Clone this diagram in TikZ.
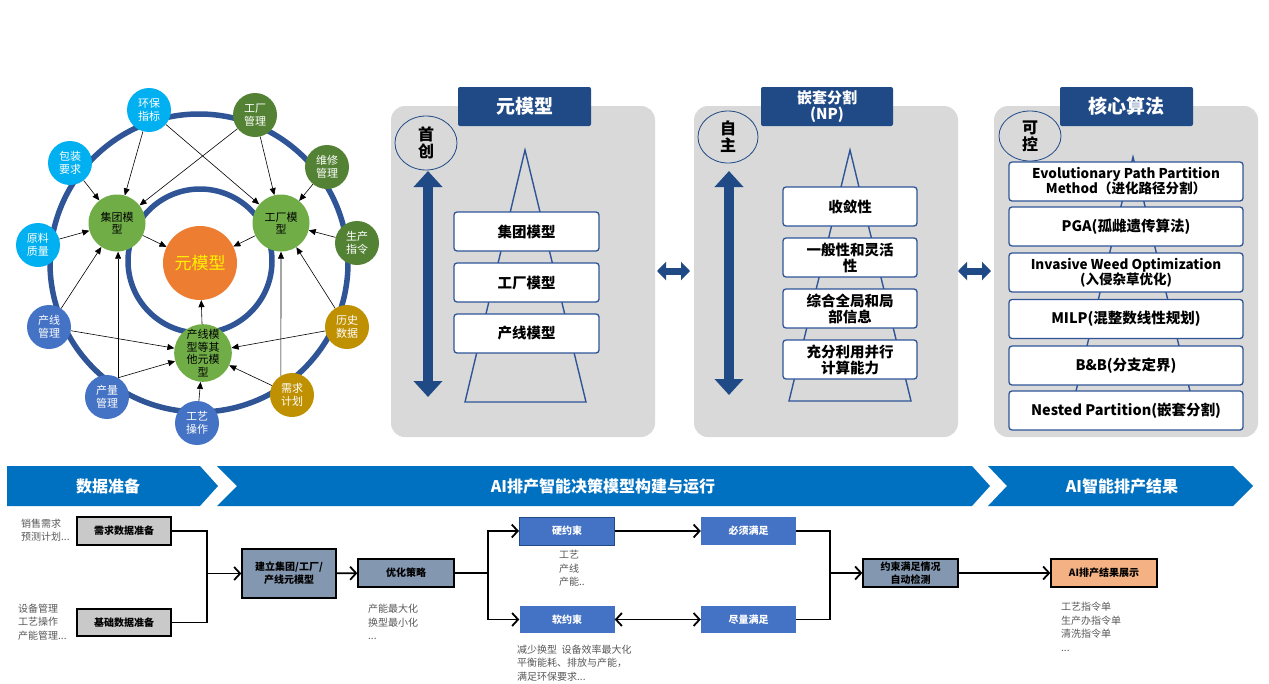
\documentclass[tikz,border=0pt]{standalone}
\usepackage{fontspec}
\setmainfont{Noto Sans CJK SC}
\usetikzlibrary{arrows.meta,shapes.geometric}
\definecolor{cyanc}{HTML}{00B0F0}
\definecolor{dgreen}{HTML}{548235}
\definecolor{lgreen}{HTML}{70AD47}
\definecolor{blu}{HTML}{4472C4}
\definecolor{gold}{HTML}{BF9000}
\definecolor{orng}{HTML}{ED7D31}
\definecolor{ringc}{HTML}{2F5597}
\definecolor{panelgray}{HTML}{D9D9D9}
\definecolor{navy}{HTML}{1F4A86}
\definecolor{bannerc}{HTML}{0070C0}
\definecolor{slate}{HTML}{8497B0}
\definecolor{lorange}{HTML}{F4B183}
\definecolor{boxgray}{HTML}{C9C9C9}
\definecolor{txtgray}{HTML}{595959}
\tikzset{
  outerc/.style={circle, minimum size=44pt, inner sep=0pt, text=white, align=center, font=\fontsize{11}{13}\selectfont},
  greenc/.style={circle, fill=lgreen, minimum size=57pt, inner sep=0pt, align=center, font=\fontsize{11}{12.5}\selectfont},
  carrow/.style={draw=black, line width=0.6pt, -{Triangle[length=7pt,width=6pt]}},
  ringline/.style={draw=ringc, line width=5.5pt},
  titlebox/.style={fill=navy, text=white, rounded corners=2pt, minimum height=39pt, inner sep=0pt, align=center},
  tagell/.style={ellipse, draw=navy, line width=0.8pt, inner sep=0pt, align=center, font=\bfseries\fontsize{16}{20}\selectfont},
  pbox/.style={draw=ringc, line width=1.3pt, fill=white, rounded corners=3pt, minimum height=39pt, inner sep=0pt, align=center, font=\bfseries\fontsize{14.5}{16}\selectfont},
  pyr/.style={draw=ringc, line width=1.4pt},
  bigdarrow/.style={navy, line width=10pt, {Triangle[length=16pt,width=28pt]}-{Triangle[length=16pt,width=28pt]}},
  smalldarrow/.style={navy, line width=7pt, {Triangle[length=9pt,width=18pt]}-{Triangle[length=9pt,width=18pt]}},
  bantext/.style={text=white, font=\bfseries\fontsize{16}{18}\selectfont},
  fbox/.style={draw=black, line width=1.3pt, minimum height=28pt, inner sep=0pt, align=center, font=\bfseries\fontsize{10}{13}\selectfont},
  bbox/.style={fill=blu, text=white, minimum height=28pt, minimum width=95pt, inner sep=0pt, font=\bfseries\fontsize{10}{13}\selectfont},
  flow/.style={draw=black, line width=1.8pt, -{Straight Barb[length=6pt,width=13pt,line width=1.8pt]}},
  fline/.style={draw=black, line width=1.8pt},
  glabel/.style={text=txtgray, align=left, inner sep=0pt, font=\fontsize{10}{13.5}\selectfont},
}
\begin{document}
\begin{tikzpicture}[x=1pt,y=-1pt]
\useasboundingbox[fill=white] (0,0) rectangle (1269,683);

%% ---------------- circle diagram ----------------
\draw[ringline] (199,263) circle[radius=149pt];
\draw[ringline] (200,261) circle[radius=72pt];

\node[circle, fill=orng, minimum size=74pt, inner sep=0pt, text=yellow, font=\fontsize{17}{20}\selectfont] (meta) at (200,263) {元模型};
\node[greenc] (grp) at (117,223) {集团模\\型};
\node[greenc] (fac) at (281,223) {工厂模\\型};
\node[greenc] (pl) at (203,353) {产线模\\型等其\\他元模\\型};

\node[outerc, fill=cyanc] (hb) at (149,110) {环保\\指标};
\node[outerc, fill=cyanc] (bz) at (70,163) {包装\\要求};
\node[outerc, fill=cyanc] (yl) at (38,245) {原料\\质量};
\node[outerc, fill=dgreen] (gc) at (255,115) {工厂\\管理};
\node[outerc, fill=dgreen] (wx) at (327,167) {维修\\管理};
\node[outerc, fill=dgreen] (sc) at (357,243) {生产\\指令};
\node[outerc, fill=blu] (cx) at (49,327) {产线\\管理};
\node[outerc, fill=blu] (cl) at (107,397) {产量\\管理};
\node[outerc, fill=blu] (gy) at (197,423) {工艺\\操作};
\node[outerc, fill=gold] (ls) at (347,327) {历史\\数据};
\node[outerc, fill=gold] (xq) at (292,395) {需求\\计划};

\draw[carrow] (hb) -- (grp);
\draw[carrow] (bz) -- (grp);
\draw[carrow] (yl) -- (grp);
\draw[carrow] (gc) -- (grp);
\draw[carrow] (cx) -- (grp);
\draw[carrow] (cl.60) -- (cl.60 |- grp.south);
\draw[carrow] (hb) -- (fac);
\draw[carrow] (gc) -- (fac);
\draw[carrow] (wx) -- (fac);
\draw[carrow] (sc) -- (fac);
\draw[carrow] (ls) -- (fac);
\draw[carrow] (xq.120) -- (fac.south);
\draw[carrow] (cx) -- (pl);
\draw[carrow] (cl.60) -- (pl);
\draw[carrow] (gy) -- (pl);
\draw[carrow] (xq) -- (pl);
\draw[carrow] (ls) -- (pl);
\draw[carrow] (grp) -- (meta);
\draw[carrow] (fac) -- (meta);
\draw[carrow] (pl) -- (meta);

%% ---------------- panel 1 ----------------
\fill[panelgray, rounded corners=14pt] (391,106) rectangle (655,437);
\node[titlebox, minimum width=133pt, font=\bfseries\fontsize{19}{22}\selectfont] (t1) at (524.5,106.5) {元模型};
\node[tagell, minimum width=62pt, minimum height=54pt] (e1) at (426,143) {首\\[-3pt]创};
\coordinate (a1t) at (428,171);
\coordinate (a1b) at (428,397);
\draw[bigdarrow] (a1t) -- (a1b);
\draw[pyr] (525,150) -- (465,402) -- (586,402) -- cycle;
\node[pbox, minimum width=145pt] (b11) at (526.5,231.5) {集团模型};
\node[pbox, minimum width=145pt] (b12) at (526.5,282.5) {工厂模型};
\node[pbox, minimum width=145pt] (b13) at (526.5,333.5) {产线模型};

%% ---------------- panel 2 ----------------
\fill[panelgray, rounded corners=14pt] (694,106) rectangle (958,437);
\node[titlebox, minimum width=132pt, font=\bfseries\fontsize{15}{16}\selectfont] (t2) at (827,106.5) {嵌套分割\\(NP)};
\node[tagell, minimum width=60pt, minimum height=52pt] (e2) at (728,137) {自\\[-3pt]主};
\coordinate (a2t) at (729,171);
\coordinate (a2b) at (729,395);
\draw[bigdarrow] (a2t) -- (a2b);
\draw[pyr] (850,150) -- (789,401) -- (911,401) -- cycle;
\node[pbox, minimum width=134pt] (b21) at (850,206.5) {收敛性};
\node[pbox, minimum width=134pt] (b22) at (850,257.5) {一般性和灵活\\性};
\node[pbox, minimum width=134pt] (b23) at (850,308.5) {综合全局和局\\部信息};
\node[pbox, minimum width=134pt] (b24) at (850,359.5) {充分利用并行\\计算能力};

%% ---------------- panel 3 ----------------
\fill[panelgray, rounded corners=14pt] (994,106) rectangle (1258,437);
\node[titlebox, minimum width=133pt, font=\bfseries\fontsize{19}{22}\selectfont] (t3) at (1126.5,106.5) {核心算法};
\node[tagell, minimum width=62pt, minimum height=50pt] (e3) at (1030,136) {可\\[-3pt]控};
\draw[pyr] (1133,157) -- (1067,428) -- (1199,428) -- cycle;
\node[pbox, minimum width=234pt, font=\bfseries\fontsize{13.5}{15}\selectfont] (b31) at (1126,181.5) {Evolutionary Path Partition\\Method（进化路径分割）};
\node[pbox, minimum width=234pt] (b32) at (1126,226.5) {PGA(孤雌遗传算法)};
\node[pbox, minimum width=234pt, font=\bfseries\fontsize{13.5}{15}\selectfont] (b33) at (1126,272.5) {Invasive Weed Optimization\\(入侵杂草优化)};
\node[pbox, minimum width=234pt] (b34) at (1126,319) {MILP(混整数线性规划)};
\node[pbox, minimum width=234pt] (b35) at (1126,365.5) {B\&B(分支定界)};
\node[pbox, minimum width=234pt] (b36) at (1126,410.5) {Nested Partition(嵌套分割)};

%% panel connectors
\coordinate (d1a) at (657,271);
\coordinate (d1b) at (690,271);
\draw[smalldarrow] (d1a) -- (d1b);
\coordinate (d2a) at (958,271);
\coordinate (d2b) at (991,271);
\draw[smalldarrow] (d2a) -- (d2b);

%% ---------------- banner ----------------
\fill[bannerc] (7,466) -- (200,466) -- (218,486) -- (200,506) -- (7,506) -- cycle;
\fill[bannerc] (217,466) -- (972,466) -- (990,486) -- (972,506) -- (217,506) -- (237,486) -- cycle;
\fill[bannerc] (988,466) -- (1233,466) -- (1253,486) -- (1233,506) -- (988,506) -- (1007,486) -- cycle;
\node[bantext] (ban1) at (108,486) {数据准备};
\node[bantext] (ban2) at (603,486) {AI排产智能决策模型构建与运行};
\node[bantext] (ban3) at (1122,486) {AI智能排产结果};

%% ---------------- flow ----------------
\node[fbox, fill=boxgray, minimum width=94pt] (req) at (124,531) {需求数据准备};
\node[fbox, fill=boxgray, minimum width=94pt, minimum height=27pt] (base) at (124,622.5) {基础数据准备};
\node[fbox, fill=slate, minimum width=94pt, minimum height=49pt] (build) at (289,573.5) {建立集团/工厂/\\产线元模型};
\node[fbox, fill=slate, minimum width=96pt] (opt) at (406,573) {优化策略};
\node[bbox, draw=navy, line width=1pt] (hard) at (567,531) {硬约束};
\node[bbox, minimum height=27pt] (soft) at (567,619.5) {软约束};
\node[bbox] (must) at (748.5,531) {必须满足};
\node[bbox, minimum height=27pt] (try) at (748.5,619.5) {尽量满足};
\node[fbox, fill=slate, minimum width=95pt] (check) at (910.5,573) {约束满足情况\\自动检测};
\node[fbox, fill=lorange, minimum width=106pt] (res) at (1104,573) {AI排产结果展示};

\coordinate (j1) at (207,573.5);
\coordinate (j2) at (488,573);
\coordinate (j3) at (830,573);
\draw[fline] (req.east) -| (j1) |- (base.east);
\draw[flow] (j1) -- (build);
\draw[flow] (build) -- (opt);
\draw[fline] (opt.east) -- (j2);
\draw[flow] (j2) |- (hard.west);
\draw[flow] (j2) |- (soft.west);
\draw[flow] (hard) -- (must);
\draw[draw=black, line width=1.8pt, {Straight Barb[length=6pt,width=13pt,line width=1.8pt]}-{Straight Barb[length=6pt,width=13pt,line width=1.8pt]}] (soft) -- (try);
\draw[fline] (must.east) -| (j3) |- (try.east);
\draw[flow] (j3) -- (check);
\draw[flow] (check) -- (res);

\node[glabel, anchor=west] (l1) at (21,530) {销售需求\\预测计划...};
\node[glabel, anchor=west] (l2) at (18,622) {设备管理\\工艺操作\\产能管理...};
\node[glabel, anchor=west] (l3) at (368,622) {产能最大化\\换型最小化\\...};
\node[glabel, anchor=west] (l4) at (559,568.5) {工艺\\产线\\产能..};
\node[glabel, anchor=west] (l5) at (517,663) {减少换型\ \ 设备效率最大化\\平衡能耗、排放与产能，\\满足环保要求...};
\node[glabel, anchor=north west] (l6) at (1061,602) {工艺指令单\\生产办指令单\\清洗指令单\\...};
\end{tikzpicture}
\end{document}
